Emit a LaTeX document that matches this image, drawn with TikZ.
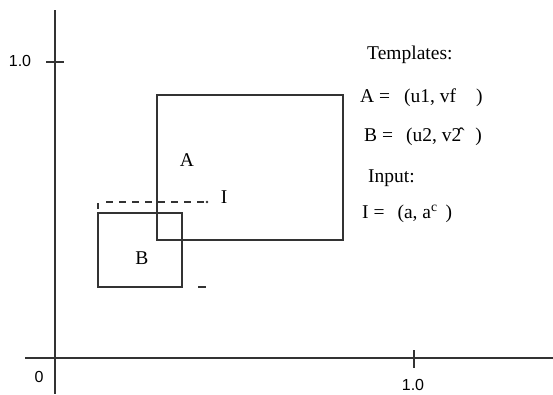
\documentclass[tikz,border=0pt]{standalone}
\usepackage{fontspec}
\setmainfont{Liberation Serif}
\newfontfamily\axisfont{Liberation Sans}

\begin{document}
\begin{tikzpicture}[
  x=1pt, y=-1pt,
  font=\fontsize{19.5}{21}\selectfont,
  axis/.style={line width=1.6pt, black!80},
  tick/.style={line width=1.3pt, black!80},
  box/.style={draw, line width=1.4pt, black!80},
  lbl/.style={inner sep=0pt, anchor=west},
  num/.style={inner sep=0pt, font=\axisfont\fontsize{16}{18}\selectfont}
]
\useasboundingbox (0,0) rectangle (553,394);
% axes
\coordinate (xl) at (25,358);
\coordinate (xr) at (553,358);
\coordinate (yt) at (55,10);
\coordinate (yb) at (55,394);
\draw[axis] (xl) -- (xr);
\draw[axis] (yt) -- (yb);
\draw[tick] (414,350) -- (414,368);
\draw[tick] (46,62) -- (64,62);
\node[num] (one-y) at (20,61) {1.0};
\node[num] (zero) at (39,377) {0};
\node[num] (one-x) at (413,385) {1.0};
% template boxes
\draw[box] (157,95) rectangle (343,240);
\draw[box] (98,213) rectangle (182,287);
\node (a) at (187,160) {A};
\node (b) at (142,258) {B};
% input
\coordinate (in-l) at (106,202);
\coordinate (in-r) at (207,202);
\draw[line width=1.3pt, black!80, dash pattern=on 7pt off 6pt] (in-l) -- (in-r);
\fill[black!80] (in-r) circle (1.4pt);
\draw[tick] (98,203) -- (98,209);
\draw[tick] (198,287) -- (206,287);
\node (i) at (224,197) {I};
% legend
\node[lbl] (tpl) at (367,55) {Templates:};
\node[lbl] (ta) at (360,98) {A =\hspace{14pt}(u1, vf\hspace{20pt})};
\node[lbl] (tb) at (364,137) {B =\hspace{13pt}(u2, v\^{2}\hspace{14pt})};
\node[lbl] (inp) at (368,178) {Input:};
\node[lbl] (ti) at (362,214) {I =\hspace{13pt}(a, a\textsuperscript{c}\hspace{8pt})};
\end{tikzpicture}
\end{document}
